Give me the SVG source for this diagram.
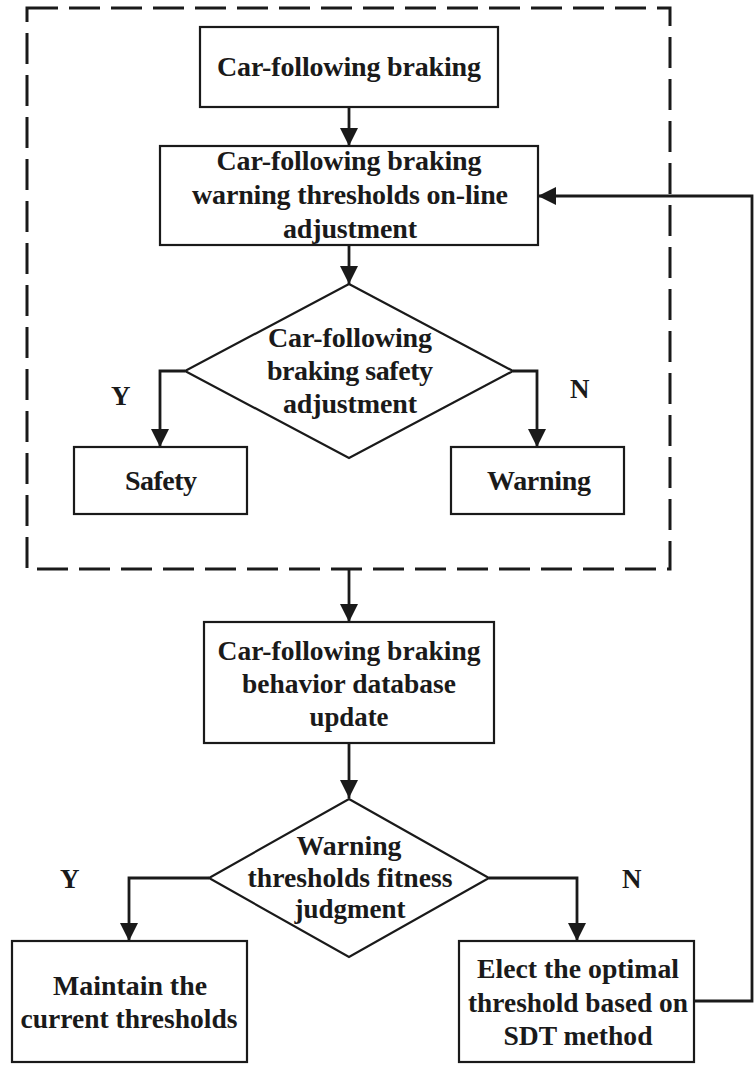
<svg xmlns="http://www.w3.org/2000/svg" width="755" height="1078" viewBox="0 0 755 1078">
<style>
.box{fill:#fff;stroke:#1a1a1a;stroke-width:2.2}
.t{font-family:"Liberation Serif","Times New Roman",serif;font-weight:bold;font-size:28px;fill:#1a1a1a;text-anchor:middle}
.s{lengthAdjust:spacingAndGlyphs}
.c{fill:none;stroke:#1a1a1a;stroke-width:2.8;marker-end:url(#ah)}
.lbl{font-family:"Liberation Serif","Times New Roman",serif;font-weight:bold;font-size:27px;fill:#1a1a1a}
</style>
<defs>
<marker id="ah" markerUnits="userSpaceOnUse" markerWidth="18" markerHeight="18" refX="18" refY="9" orient="auto">
<path d="M0,0 L18,9 L0,18 z" fill="#1a1a1a"/>
</marker>
</defs>
<rect width="755" height="1078" fill="#fff"/>
<g id="group-frame">
<rect x="27" y="8" width="643" height="561" fill="none" stroke="#1a1a1a" stroke-width="3" stroke-dasharray="31 11"/>
</g>
<g id="connectors">
<path class="c" d="M349,107 V146"/>
<path class="c" d="M349,245 V284"/>
<path class="c" d="M185,371 H160 V447"/>
<path class="c" d="M513,371 H537 V447"/>
<path class="c" d="M349,569 V622"/>
<path class="c" d="M349,743 V798"/>
<path class="c" d="M209,878 H129 V941"/>
<path class="c" d="M489,878 H577 V941"/>
<path class="c" d="M694,1001 H752 V196 H538"/>
<text class="lbl" x="111" y="405">Y</text>
<text class="lbl" x="570" y="398">N</text>
<text class="lbl" x="60" y="888">Y</text>
<text class="lbl" x="622" y="888">N</text>
</g>
<g id="n1">
<rect class="box" x="200" y="27" width="298" height="80"/>
<text class="t" x="349" y="76" textLength="264">Car-following braking</text>
</g>
<g id="n2">
<rect class="box" x="160" y="146" width="378" height="99"/>
<text class="t" x="349" y="170" textLength="265">Car-following braking</text>
<text class="t" x="350" y="204" textLength="316">warning thresholds on-line</text>
<text class="t" x="350" y="238" textLength="134">adjustment</text>
</g>
<g id="n3">
<polygon class="box" points="349,284 513,371 349,458 185,371"/>
<text class="t" x="350" y="347" textLength="164">Car-following</text>
<text class="t" x="350" y="380" textLength="166">braking safety</text>
<text class="t" x="350" y="413" textLength="134">adjustment</text>
</g>
<g id="n4">
<rect class="box" x="74" y="447" width="173" height="67"/>
<text class="t" x="161" y="490" textLength="72">Safety</text>
</g>
<g id="n5">
<rect class="box" x="451" y="447" width="173" height="67"/>
<text class="t" x="539" y="490" textLength="104">Warning</text>
</g>
<g id="n6">
<rect class="box" x="204" y="622" width="290" height="121"/>
<text class="t" x="349" y="660" textLength="263" lengthAdjust="spacingAndGlyphs">Car-following braking</text>
<text class="t" x="349" y="693" textLength="214" lengthAdjust="spacingAndGlyphs">behavior database</text>
<text class="t" x="349" y="726" textLength="79" lengthAdjust="spacingAndGlyphs">update</text>
</g>
<g id="n7">
<polygon class="box" points="349,799 489,878 349,957 209,878"/>
<text class="t" x="349" y="855" textLength="105" lengthAdjust="spacingAndGlyphs">Warning</text>
<text class="t" x="350" y="887" textLength="205" lengthAdjust="spacingAndGlyphs">thresholds fitness</text>
<text class="t" x="350" y="918" textLength="111" lengthAdjust="spacingAndGlyphs">judgment</text>
</g>
<g id="n8">
<rect class="box" x="12" y="941" width="235" height="121"/>
<text class="t" x="130" y="995" textLength="154" lengthAdjust="spacingAndGlyphs">Maintain the</text>
<text class="t" x="129" y="1028" textLength="217" lengthAdjust="spacingAndGlyphs">current thresholds</text>
</g>
<g id="n9">
<rect class="box" x="459" y="941" width="235" height="121"/>
<text class="t" x="578" y="978" textLength="202" lengthAdjust="spacingAndGlyphs">Elect the optimal</text>
<text class="t" x="578" y="1012" textLength="220" lengthAdjust="spacingAndGlyphs">threshold based on</text>
<text class="t" x="578" y="1045" textLength="149" lengthAdjust="spacingAndGlyphs">SDT method</text>
</g>
</svg>
